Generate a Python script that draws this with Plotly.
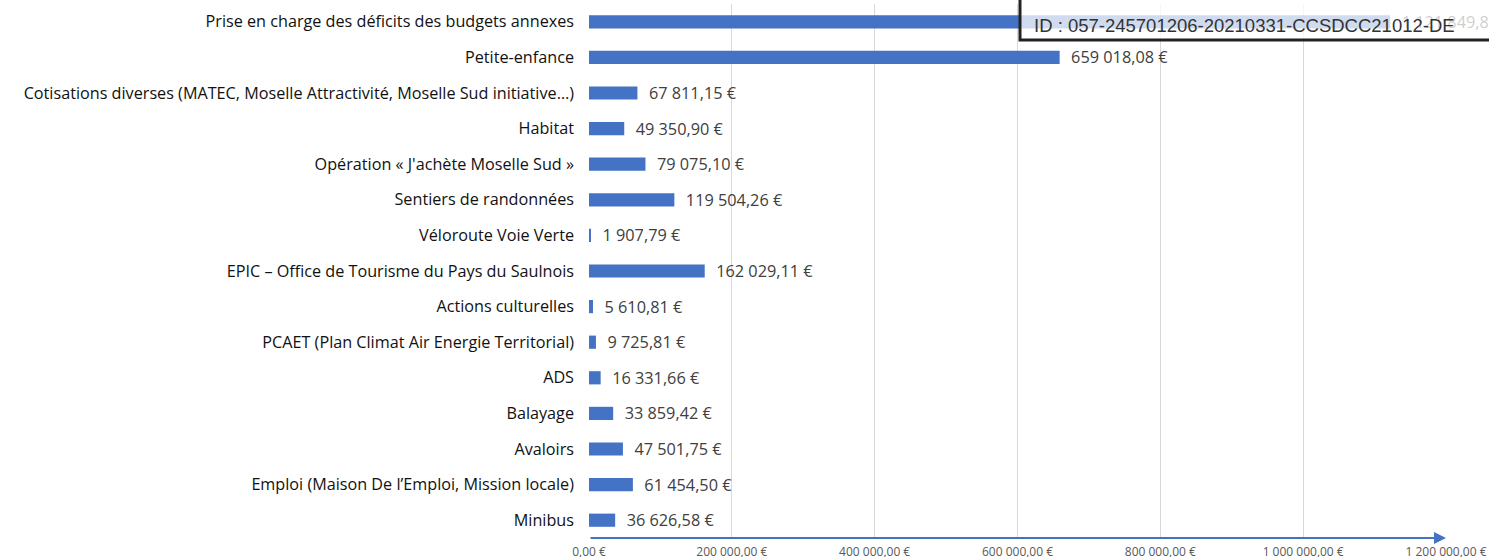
import plotly.graph_objects as go

categories = [
    "Prise en charge des déficits des budgets annexes",
    "Petite-enfance",
    "Cotisations diverses (MATEC, Moselle Attractivité, Moselle Sud initiative…)",
    "Habitat",
    "Opération « J'achète Moselle Sud »",
    "Sentiers de randonnées",
    "Véloroute Voie Verte",
    "EPIC – Office de Tourisme du Pays du Saulnois",
    "Actions culturelles",
    "PCAET (Plan Climat Air Energie Territorial)",
    "ADS",
    "Balayage",
    "Avaloirs",
    "Emploi (Maison De l’Emploi, Mission locale)",
    "Minibus",
]
values = [1121849.87, 659018.08, 67811.15, 49350.90, 79075.10, 119504.26, 1907.79,
          162029.11, 5610.81, 9725.81, 16331.66, 33859.42, 47501.75, 61454.50, 36626.58]
labels = ["1 121 849,87 €", "659 018,08 €", "67 811,15 €", "49 350,90 €", "79 075,10 €",
          "119 504,26 €", "1 907,79 €", "162 029,11 €", "5 610,81 €", "9 725,81 €",
          "16 331,66 €", "33 859,42 €", "47 501,75 €", "61 454,50 €", "36 626,58 €"]
tick_vals = [0, 200000, 400000, 600000, 800000, 1000000, 1200000]
tick_text = ["0,00 €", "200 000,00 €", "400 000,00 €", "600 000,00 €",
             "800 000,00 €", "1 000 000,00 €", "1 200 000,00 €"]
stamp = "ID : 057-245701206-20210331-CCSDCC21012-DE"

fig = go.Figure(go.Bar(
    y=categories, x=values, orientation="h",
    marker=dict(color="#4472C4", line=dict(width=0)),
    text=["  " + t for t in labels], textposition="outside",
    textfont=dict(family="Open Sans, sans-serif", size=16.3, color="#404040"),
    cliponaxis=False, constraintext="none",
))

fig.update_layout(
    width=1489, height=557,
    margin=dict(l=589, r=43, t=4, b=19, autoexpand=False),
    paper_bgcolor="white", plot_bgcolor="white",
    bargap=0.63, showlegend=False,
    font=dict(family="Open Sans, sans-serif"),
    xaxis=dict(range=[0, 1200000], tickvals=tick_vals, ticktext=tick_text,
               showgrid=True, gridcolor="#D9D9D9", gridwidth=1, zeroline=False,
               showline=False, ticks="", automargin=False,
               tickfont=dict(size=12, color="#595959"), ticklabelstandoff=5),
    yaxis=dict(categoryorder="array", categoryarray=categories,
               range=[len(categories) - 0.5, -0.5],
               showgrid=False, zeroline=False, showline=False, automargin=False,
               ticks="", ticklabelstandoff=14,
               tickfont=dict(size=16.2, color="#111111")),
)

# blue axis arrow
fig.add_annotation(x=1200000, y=0, xref="x", yref="paper",
                   ax=0, ay=0, axref="x", ayref="pixel",
                   showarrow=True, arrowhead=2, arrowsize=1.2, arrowwidth=2,
                   arrowcolor="#4472C4", text="")

# stamp overlay box
fig.add_shape(type="rect", xref="paper", yref="paper",
              x0=(1020 - 589) / 857, x1=1.1, y0=(538 - 40) / 534, y1=1.05,
              fillcolor="rgba(255,255,255,0.75)", line=dict(color="#222222", width=3),
              layer="above")
fig.add_annotation(x=(1032 - 589) / 857, y=(538 - 26) / 534, xref="paper", yref="paper",
                   xanchor="left", yanchor="middle", showarrow=False, text=stamp,
                   font=dict(family="Liberation Sans, Arial, sans-serif", size=18.5, color="#333333"))

fig.write_html("out.html", config={"displayModeBar": False},
               post_script="document.body.style.margin='0';")
